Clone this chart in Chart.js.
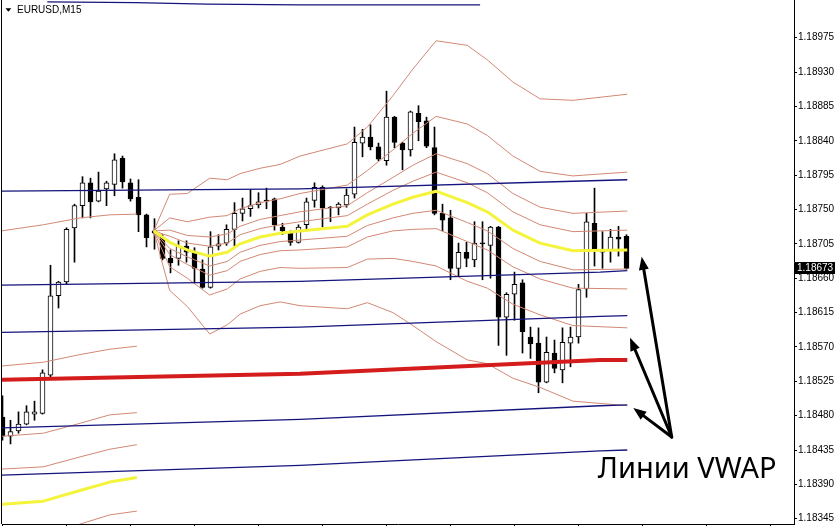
<!DOCTYPE html>
<html><head><meta charset="utf-8">
<script src="https://cdn.jsdelivr.net/npm/chart.js@4.4.0/dist/chart.umd.min.js"></script>
<style>html,body{margin:0;padding:0;background:#fff;overflow:hidden}canvas{display:block}</style>
</head><body>
<canvas id="c" width="835" height="526"></canvas>
<script>
// ---- Candles (EURUSD M15), index 0..78 ----
const open = [1.18478,1.18453,1.18460,1.18469,1.18482,1.18483,1.18533,1.18637,1.18655,1.18726,
1.18755,1.18785,1.18761,1.18777,1.18783,1.18817,1.18785,1.18766,1.18743,1.18722,
1.18714,1.18686,1.18686,1.18702,1.18693,1.18672,1.18648,1.18702,1.18706,1.18724,
1.18745,1.18751,1.18756,1.18762,1.18764,1.18727,1.18719,1.18707,1.18730,1.18762,
1.18779,1.18753,1.18752,1.18756,1.18770,1.18837,1.18845,1.18832,1.18814,1.18871,
1.18837,1.18828,1.18876,1.18866,1.18831,1.18745,1.18739,1.18673,1.18694,1.18684,
1.18706,1.18703,1.18727,1.18609,1.18639,1.18654,1.18583,1.18575,1.18524,1.18562,
1.18540,1.18575,1.18583,1.18646,1.18732,1.18694,1.18696,1.18714,1.18715];
const high = [1.18506,1.18474,1.18485,1.18493,1.18499,1.18540,1.18677,1.18656,1.18726,1.18757,
1.18793,1.18791,1.18799,1.18787,1.18823,1.18820,1.18790,1.18789,1.18744,1.18738,
1.18717,1.18697,1.18709,1.18709,1.18700,1.18684,1.18721,1.18717,1.18730,1.18759,
1.18765,1.18776,1.18772,1.18778,1.18765,1.18732,1.18722,1.18730,1.18765,1.18785,
1.18781,1.18754,1.18759,1.18777,1.18858,1.18855,1.18861,1.18837,1.18905,1.18872,
1.18838,1.18879,1.18886,1.18871,1.18858,1.18757,1.18749,1.18706,1.18707,1.18734,
1.18734,1.18728,1.18728,1.18641,1.18668,1.18658,1.18596,1.18595,1.18583,1.18579,
1.18595,1.18596,1.18652,1.18745,1.18778,1.18721,1.18724,1.18728,1.18717];
const low = [1.18448,1.18443,1.18457,1.18468,1.18474,1.18482,1.18529,1.18621,1.18652,1.18681,
1.18739,1.18739,1.18760,1.18755,1.18768,1.18778,1.18761,1.18721,1.18701,1.18698,
1.18684,1.18667,1.18677,1.18681,1.18654,1.18647,1.18647,1.18697,1.18703,1.18702,
1.18735,1.18741,1.18752,1.18751,1.18723,1.18717,1.18703,1.18706,1.18723,1.18753,
1.18727,1.18734,1.18743,1.18753,1.18765,1.18819,1.18828,1.18814,1.18808,1.18831,
1.18802,1.18820,1.18840,1.18831,1.18743,1.18722,1.18658,1.18663,1.18675,1.18675,
1.18658,1.18660,1.18572,1.18559,1.18605,1.18562,1.18555,1.18510,1.18523,1.18536,
1.18523,1.18544,1.18575,1.18635,1.18676,1.18673,1.18681,1.18689,1.18672];
const close = [1.18453,1.18459,1.18469,1.18485,1.18485,1.18536,1.18637,1.18655,1.18724,1.18755,
1.18785,1.18760,1.18774,1.18785,1.18815,1.18786,1.18764,1.18743,1.18713,1.18719,
1.18686,1.18680,1.18702,1.18694,1.18673,1.18648,1.18701,1.18705,1.18724,1.18745,
1.18751,1.18755,1.18760,1.18761,1.18730,1.18722,1.18707,1.18727,1.18760,1.18779,
1.18752,1.18752,1.18757,1.18769,1.18838,1.18845,1.18832,1.18816,1.18871,1.18838,
1.18828,1.18878,1.18865,1.18833,1.18745,1.18736,1.18673,1.18694,1.18686,1.18706,
1.18705,1.18727,1.18609,1.18639,1.18652,1.18590,1.18574,1.18524,1.18563,1.18542,
1.18576,1.18583,1.18645,1.18734,1.18698,1.18698,1.18714,1.18711,1.18673];

// ---- Current session VWAP and bands (x = candle index) ----
const sessX   = [18.9,20.9,23.1,25.9,28.1,29.7,32.2,34.7,37.2,43.1,45.6,48.8,51.3,54.2,58.1,60.6,63.8,67.2,71.3,78.1];
const vwap    = [1.18722,1.18707,1.18697,1.18689,1.18694,1.18705,1.18714,1.18719,1.18722,1.18728,1.18743,1.18757,1.18766,1.18774,1.18759,1.18747,1.18723,1.18706,1.18696,1.18697];
const plus1   = [1.18722,1.18715,1.18706,1.18702,1.18706,1.18717,1.18725,1.18730,1.18734,1.18742,1.18757,1.18775,1.18787,1.18799,1.18785,1.18772,1.18747,1.18730,1.18721,1.18723];
const plus2   = [1.18722,1.18723,1.18716,1.18714,1.18718,1.18728,1.18737,1.18742,1.18747,1.18755,1.18772,1.18792,1.18808,1.18823,1.18810,1.18797,1.18771,1.18753,1.18745,1.18748];
const plus4   = [1.18722,1.18739,1.18734,1.18740,1.18742,1.18751,1.18759,1.18764,1.18771,1.18782,1.18801,1.18828,1.18850,1.18872,1.18862,1.18847,1.18820,1.18800,1.18794,1.18799];
const plus8   = [1.18722,1.18770,1.18771,1.18791,1.18789,1.18797,1.18804,1.18809,1.18820,1.18836,1.18858,1.18899,1.18934,1.18971,1.18965,1.18946,1.18917,1.18895,1.18893,1.18901];
const minus1  = [1.18722,1.18699,1.18688,1.18676,1.18682,1.18694,1.18703,1.18708,1.18710,1.18715,1.18729,1.18739,1.18745,1.18749,1.18733,1.18722,1.18699,1.18682,1.18671,1.18672];
const minus2  = [1.18722,1.18691,1.18678,1.18664,1.18670,1.18682,1.18691,1.18696,1.18697,1.18701,1.18714,1.18722,1.18724,1.18725,1.18708,1.18697,1.18675,1.18659,1.18647,1.18646];
const minus4  = [1.18722,1.18675,1.18660,1.18638,1.18646,1.18659,1.18669,1.18674,1.18673,1.18674,1.18685,1.18686,1.18682,1.18676,1.18656,1.18647,1.18626,1.18612,1.18598,1.18595];
const minus8  = [1.18722,1.18644,1.18623,1.18587,1.18599,1.18613,1.18624,1.18629,1.18624,1.18620,1.18628,1.18615,1.18598,1.18577,1.18553,1.18548,1.18529,1.18517,1.18499,1.18493];

// ---- Previous session VWAP and bands ----
const prevX      = [-0.1,5.1,9.7,13.4,16.8];
const prevVwap   = [1.18364,1.18368,1.18382,1.18393,1.18399];
const prevPlus1  = [1.18410,1.18413,1.18426,1.18436,1.18442];
const prevPlus2  = [1.18453,1.18457,1.18470,1.18481,1.18484];
const prevPlus4  = [1.18545,1.18550,1.18560,1.18567,1.18571];
const prevPlus8  = [1.18722,1.18730,1.18739,1.18743,1.18744];
const prevMinus1 = [1.18320,1.18324,1.18338,1.18350,1.18355];

// ---- Long-period VWAP levels (navy) and main VWAP (red) ----
const levelX = [-0.1,37.2,74.7,78.1];
const navy1  = [1.18774,1.18777,1.18788,1.18789];
const navy2  = [1.18651,1.18656,1.18668,1.18670];
const navy3  = [1.18589,1.18596,1.18610,1.18611];
const navy4  = [1.18464,1.18475,1.18493,1.18494];
const navy5  = [1.18402,1.18415,1.18434,1.18435];
const redVwap = [1.18527,1.18535,1.18553,1.18553];
const topNavyX = [5.6,16.6,25.6,37.2,59.7];
const topNavy  = [1.19022,1.19021,1.19019,1.19018,1.19018];

// ---- Axis ticks ----
const yTicks = [1.18975,1.18930,1.18885,1.18840,1.18795,1.18750,1.18705,1.18660,1.18615,1.18570,1.18525,1.18480,1.18435,1.18390,1.18345];
const xTicks = [0,8,16,24,32,40,48,56,64,72,80,88,96];

// ---- Annotations ----
const titleText = 'EURUSD,M15';
const noteText = 'Линии VWAP';
const notePos = {x: 74.4, y: 1.18398};
const arrowFrom = {x: 83.65, y: 1.18452};
const arrowTipsX = [79.9, 78.44, 78.85];
const arrowTipsY = [1.18688, 1.18582, 1.18490];

const SALMON = 'rgb(210,136,116)';
const NAVY = '#14147e';
const YELLOW = 'rgb(244,244,60)';
const RED = 'rgb(212,28,28)';

function lineDs(xs, ys, color, width, order) {
  return {type:'line', data: xs.map((x,k)=>({x:x, y:ys[k]})), borderColor: color, borderWidth: width,
          pointRadius: 0, tension: 0, fill: false, order: order, borderJoinStyle:'round'};
}

const idx = open.map((_, i) => i);
const datasets = [
  lineDs(levelX, redVwap, RED, 4, 0),
  lineDs(sessX, vwap, YELLOW, 3, 1),
  lineDs(prevX, prevVwap, YELLOW, 3, 1),
  lineDs(levelX, navy1, NAVY, 1.3, 2),
  lineDs(levelX, navy2, NAVY, 1.3, 2),
  lineDs(levelX, navy3, NAVY, 1.3, 2),
  lineDs(levelX, navy4, NAVY, 1.3, 2),
  lineDs(levelX, navy5, NAVY, 1.3, 2),
  lineDs(topNavyX, topNavy, NAVY, 1.3, 2),
  lineDs(sessX, plus1, SALMON, 1, 3),
  lineDs(sessX, plus2, SALMON, 1, 3),
  lineDs(sessX, plus4, SALMON, 1, 3),
  lineDs(sessX, plus8, SALMON, 1, 3),
  lineDs(sessX, minus1, SALMON, 1, 3),
  lineDs(sessX, minus2, SALMON, 1, 3),
  lineDs(sessX, minus4, SALMON, 1, 3),
  lineDs(sessX, minus8, SALMON, 1, 3),
  lineDs(prevX, prevPlus1, SALMON, 1, 3),
  lineDs(prevX, prevPlus2, SALMON, 1, 3),
  lineDs(prevX, prevPlus4, SALMON, 1, 3),
  lineDs(prevX, prevPlus8, SALMON, 1, 3),
  lineDs(prevX, prevMinus1, SALMON, 1, 3),
  {type:'bar', data: idx.map(i=>({x:i, y:[Math.min(open[i],close[i]), Math.max(open[i],close[i])]})),
   backgroundColor: idx.map(i => close[i] > open[i] ? '#ffffff' : '#000000'),
   borderColor:'#000000', borderWidth:1, borderSkipped:false, barThickness:5, minBarLength:1,
   grouped:false, order:4},
  {type:'bar', data: idx.map(i=>({x:i, y:[low[i], high[i]]})),
   backgroundColor:'#000000', borderWidth:0, barThickness:1, grouped:false, order:5}
];

function drawArrow(ctx, x0, y0, x1, y1) {
  const a = Math.atan2(y1-y0, x1-x0);
  const head = 13, hw = 5;
  const bx = x1 - head*Math.cos(a), by = y1 - head*Math.sin(a);
  ctx.lineWidth = 3; ctx.lineCap = 'round';
  ctx.beginPath(); ctx.moveTo(x0,y0); ctx.lineTo(bx,by); ctx.stroke();
  ctx.beginPath(); ctx.moveTo(x1,y1);
  ctx.lineTo(bx + hw*Math.sin(a), by - hw*Math.cos(a));
  ctx.lineTo(bx - hw*Math.sin(a), by + hw*Math.cos(a));
  ctx.closePath(); ctx.fill();
}

const overlay = {
  id:'overlay',
  afterDraw(chart) {
    const ctx = chart.ctx, xs = chart.scales.x, ys = chart.scales.y, ca = chart.chartArea;
    ctx.save();
    ctx.strokeStyle = '#000'; ctx.lineWidth = 1;
    ctx.beginPath(); ctx.moveTo(ca.left - 0.5, 0); ctx.lineTo(ca.left - 0.5, ca.bottom); ctx.stroke();
    ctx.fillStyle = '#000';
    ctx.beginPath(); ctx.moveTo(5.5, 8.3); ctx.lineTo(11.3, 8.3); ctx.lineTo(8.4, 11.8); ctx.closePath(); ctx.fill();
    ctx.font = '10px "Liberation Sans", Arial, sans-serif';
    ctx.textBaseline = 'alphabetic'; ctx.textAlign = 'left';
    ctx.fillText(titleText, 17, 13);
    const last = close[close.length-1];
    const py = ys.getPixelForValue(last);
    ctx.fillStyle = '#000'; ctx.fillRect(ca.right + 1, Math.round(py) - 6, 41, 12);
    ctx.fillStyle = '#fff'; ctx.font = '10px "Liberation Sans", Arial, sans-serif';
    ctx.textBaseline = 'middle';
    ctx.fillText(last.toFixed(5), ca.right + 3, Math.round(py) + 0.5);
    ctx.fillStyle = '#000'; ctx.strokeStyle = '#000';
    const fx = xs.getPixelForValue(arrowFrom.x), fy = ys.getPixelForValue(arrowFrom.y);
    arrowTipsX.forEach((tx, k) => drawArrow(ctx, fx, fy, xs.getPixelForValue(tx), ys.getPixelForValue(arrowTipsY[k])));
    ctx.font = '29px "Noto Sans", "Open Sans", sans-serif';
    ctx.textBaseline = 'alphabetic'; ctx.textAlign = 'left';
    ctx.fillText(noteText, xs.getPixelForValue(notePos.x), ys.getPixelForValue(notePos.y));
    ctx.restore();
  }
};

function noPad(s) { s.paddingTop = 0; s.paddingBottom = 0; s.paddingLeft = 0; s.paddingRight = 0; }

new Chart(document.getElementById('c'), {
  type:'bar',
  data:{datasets},
  options:{
    responsive:false, animation:false, devicePixelRatio:1,
    layout:{padding:{left:2, top:0, right:0, bottom:0}},
    plugins:{legend:{display:false}, tooltip:{enabled:false}, title:{display:false}},
    scales:{
      x:{type:'linear', min:-0.0625, max:98.9375, offset:false,
         afterFit(s){ s.height = 2; noPad(s); },
         afterBuildTicks(s){ s.ticks = xTicks.map(v=>({value:v})); },
         ticks:{display:false},
         grid:{drawOnChartArea:false, drawTicks:true, tickLength:3, color:'#000', offset:false},
         border:{display:true, color:'#000', width:1}},
      y:{type:'linear', position:'right', min:1.183381, max:1.190244,
         afterFit(s){ s.width = 41; noPad(s); },
         afterBuildTicks(s){ s.ticks = yTicks.map(v=>({value:v})); },
         ticks:{autoSkip:false, padding:1, color:'#000', font:{family:'"Liberation Sans", Arial, sans-serif', size:10},
                callback:(v)=>Number(v).toFixed(5)},
         grid:{drawOnChartArea:false, drawTicks:true, tickLength:3, color:'#000'},
         border:{display:true, color:'#000', width:1}}
    }
  },
  plugins:[overlay]
});
</script>
</body></html>
